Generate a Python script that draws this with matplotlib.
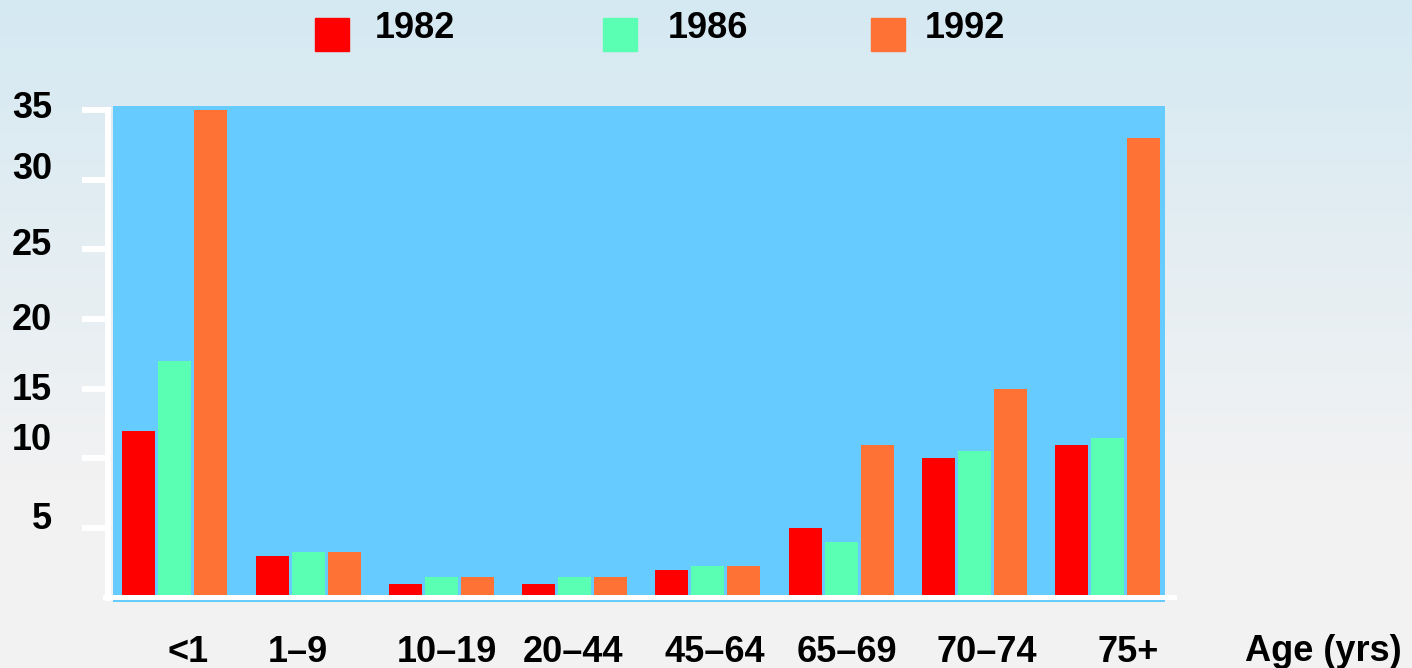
import numpy as np
import matplotlib
matplotlib.use('Agg')
import matplotlib.pyplot as plt
from matplotlib.patches import Rectangle

# ==> Data
age_groups = ['<1', '1\u20139', '10\u201319', '20\u201344', '45\u201364', '65\u201369', '70\u201374', '75+']
years = ['1982', '1986', '1992']
rate_1982 = [12, 3.0, 1.0, 1.0, 2.0, 5.0, 10.0, 11.0]
rate_1986 = [17, 3.3, 1.5, 1.5, 2.3, 4.0, 10.5, 11.5]
rate_1992 = [35, 3.3, 1.5, 1.5, 2.3, 11.0, 15.0, 33.0]
y_ticks = [5, 10, 15, 20, 25, 30, 35]

colors = ['#FF0000', '#5AFFB3', '#FF7236']
plot_bg = '#66CCFF'
FS = 26

W, H = 1412, 668
plt.rcParams['font.family'] = ['Liberation Sans', 'DejaVu Sans']
plt.rcParams['font.weight'] = 'bold'

fig = plt.figure(figsize=(W / 100, H / 100), dpi=100)

# ==> Background gradient (light blue at top fading to grey)
bg = fig.add_axes([0, 0, 1, 1], zorder=-10)
top = np.array([0xD5, 0xE9, 0xF2]) / 255
bottom = np.array([0xF2, 0xF2, 0xF2]) / 255
t = np.clip(np.arange(H) / 480, 0, 1)[:, None]
grad = top * (1 - t) + bottom * t
bg.imshow(grad[:, None, :], aspect='auto', extent=[0, 1, 0, 1])
bg.axis('off')

# ==> Main axes
px = lambda v: v / W
py = lambda v: 1 - v / H
ax = fig.add_axes([px(113), py(602), px(1052), 496 / H])
ax.set_facecolor(plot_bg)

x = np.arange(len(age_groups))
width = 0.2475
offsets = [-0.27, 0, 0.27]
for series, off, c in zip([rate_1982, rate_1986, rate_1992], offsets, colors):
    ax.bar(x + off, series, width=width, color=c, linewidth=0, zorder=2)

ax.set_xlim(-0.465, 7.43)
ax.set_ylim(-0.29, 35.27)

# white axis lines
for s in ['top', 'right']:
    ax.spines[s].set_visible(False)
ax.spines['left'].set_position(('outward', 3.6))
ax.spines['left'].set_bounds(0, 35)
ax.spines['left'].set_color('white')
ax.spines['left'].set_linewidth(4.3)
ax.spines['bottom'].set_position(('data', 0.1))
ax.spines['bottom'].set_bounds(-0.525, 7.5)
ax.spines['bottom'].set_color('white')
ax.spines['bottom'].set_linewidth(3.6)
ax.spines['bottom'].set_zorder(3)

ax.set_yticks(y_ticks)
ax.tick_params(axis='y', direction='out', length=18.7, width=4.3,
               color='white', labelleft=False)
ax.set_xticks([])

# x labels, placed a little off-centre like the original slide
xlabel_shift = [0.10, -0.08, 0.04, -0.015, 0.05, 0.04, 0.09, 0.15]
for xi, lab, sh in zip(x, age_groups, xlabel_shift):
    ax.annotate(lab, xy=(xi + sh, py(662)), xycoords=('data', 'figure fraction'),
                ha='center', va='baseline', fontsize=FS, fontweight='bold',
                annotation_clip=False)

# y tick labels (sit a bit off their ticks in the original)
ytick_label_pos = [5.6, 11.3, 14.9, 19.9, 25.3, 30.7, 35.1]
for val, pos in zip(y_ticks, ytick_label_pos):
    ax.annotate(str(val), xy=(px(52), pos), xycoords=('figure fraction', 'data'),
                ha='right', va='center', fontsize=FS, fontweight='bold',
                annotation_clip=False)

fig.text(px(1245), py(661), 'Age (yrs)', ha='left', va='baseline',
         fontsize=FS, fontweight='bold')

# ==> Legend drawn by hand along the top
legend_sq = [315, 603, 871]
legend_tx = [375, 668, 925]
for yr, c, sx, tx in zip(years, colors, legend_sq, legend_tx):
    fig.patches.append(Rectangle((px(sx), py(51)), px(34), 33 / H,
                                 transform=fig.transFigure, color=c))
    fig.text(px(tx), py(38), yr, ha='left', va='baseline', fontsize=FS,
             fontweight='bold')

fig.savefig('out.png', dpi=100)
